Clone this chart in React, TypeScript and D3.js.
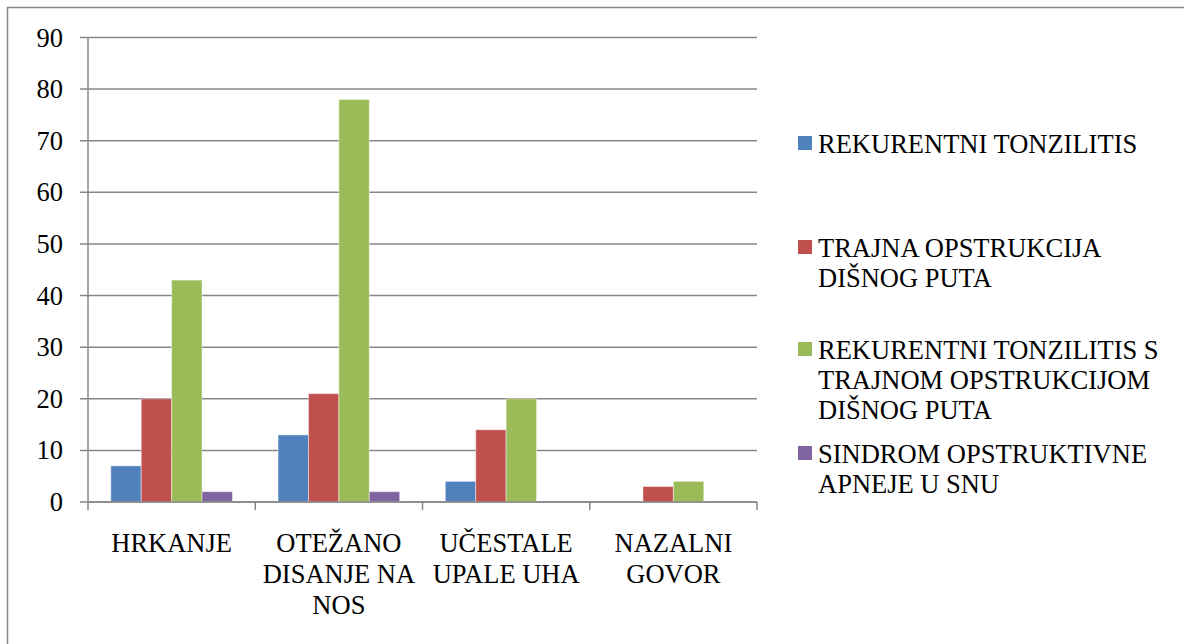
import React from "react";
import * as d3 from "d3";

const categories: string[][] = [
  ["HRKANJE"],
  ["OTEŽANO", "DISANJE NA", "NOS"],
  ["UČESTALE", "UPALE UHA"],
  ["NAZALNI", "GOVOR"],
];
const categoryKeys = ["HRKANJE", "OTEŽANO DISANJE NA NOS", "UČESTALE UPALE UHA", "NAZALNI GOVOR"];

const seriesNames: string[][] = [
  ["REKURENTNI TONZILITIS"],
  ["TRAJNA OPSTRUKCIJA", "DIŠNOG PUTA"],
  ["REKURENTNI TONZILITIS S", "TRAJNOM OPSTRUKCIJOM", "DIŠNOG PUTA"],
  ["SINDROM OPSTRUKTIVNE", "APNEJE U SNU"],
];
const seriesColors = ["#4F81BD", "#C0504D", "#9BBB59", "#8064A2"];

const rekurentni = [7, 13, 4, 0];
const trajna = [20, 21, 14, 3];
const kombinirano = [43, 78, 20, 4];
const apneja = [2, 2, 0, 0];
const seriesValues = [rekurentni, trajna, kombinirano, apneja];

const yTicks = [0, 10, 20, 30, 40, 50, 60, 70, 80, 90];
const legendRowBaselines = [153, 257, 359, 463];

const GRID = "#878787";
const FONT = "Times New Roman";

export default function App() {
  const left = 88;
  const right = 757;
  const top = 37.5;
  const bottom = 502;

  const x0 = d3.scaleBand<string>().domain(categoryKeys).range([left, right]).paddingInner(0).paddingOuter(0);
  const y = d3.scaleLinear().domain([0, 90]).range([bottom, top]);
  const bw = x0.bandwidth();
  const barW = bw / 5.5;
  const x1 = d3
    .scaleBand<number>()
    .domain([0, 1, 2, 3])
    .range([(bw - 4 * barW) / 2, (bw - 4 * barW) / 2 + 4 * barW])
    .padding(0);

  const boundaries = categoryKeys.map((c) => x0(c)!).concat([right]);

  return (
    <div style={{ position: "absolute", left: 0, top: 0 }}>
      <svg width={1184} height={644}>
        <rect x={7.5} y={7.5} width={1200} height={700} fill="#fff" stroke={GRID} strokeWidth={1.5} />
        {yTicks.map((t) => (
          <line key={"g" + t} x1={80} x2={right} y1={y(t)} y2={y(t)} stroke={GRID} strokeWidth={1.5} />
        ))}
        <line x1={left} x2={left} y1={top} y2={bottom} stroke={GRID} strokeWidth={1.5} />
        {yTicks.map((t) => (
          <text key={"yt" + t} x={63} y={y(t) + 9} textAnchor="end" fontFamily={FONT} fontSize={26.5}>
            {String(t)}
          </text>
        ))}
        {seriesValues.map((vals, si) =>
          vals.map((v, ci) =>
            v > 0 ? (
              <rect
                key={`b${si}-${ci}`}
                x={x0(categoryKeys[ci])! + x1(si)!}
                y={y(v)}
                width={x1.bandwidth()}
                height={y(0) - y(v)}
                fill={seriesColors[si]}
                stroke="rgba(255,255,255,0.45)"
                strokeWidth={1}
              />
            ) : null
          )
        )}
        <line x1={left} x2={right} y1={bottom} y2={bottom} stroke={GRID} strokeWidth={1.5} />
        {boundaries.map((b, i) => (
          <line key={"xt" + i} x1={b} x2={b} y1={bottom} y2={bottom + 8} stroke={GRID} strokeWidth={1.5} />
        ))}
        {categories.map((lines, ci) =>
          lines.map((l, li) => (
            <text
              key={`cl${ci}-${li}`}
              x={x0(categoryKeys[ci])! + bw / 2}
              y={552 + li * 31}
              textAnchor="middle"
              fontFamily={FONT}
              fontSize={26.5}
            >
              {l}
            </text>
          ))
        )}
        {seriesNames.map((lines, si) =>
          lines.map((l, li) => (
            <text
              key={`lt${si}-${li}`}
              x={818}
              y={legendRowBaselines[si] + li * 30}
              fontFamily={FONT}
              fontSize={26.5}
            >
              {l}
            </text>
          ))
        )}
        {seriesNames.map((_, si) => (
          <rect key={"lr" + si} x={798} y={legendRowBaselines[si] - 17} width={14} height={14} fill={seriesColors[si]} />
        ))}
      </svg>
    </div>
  );
}
